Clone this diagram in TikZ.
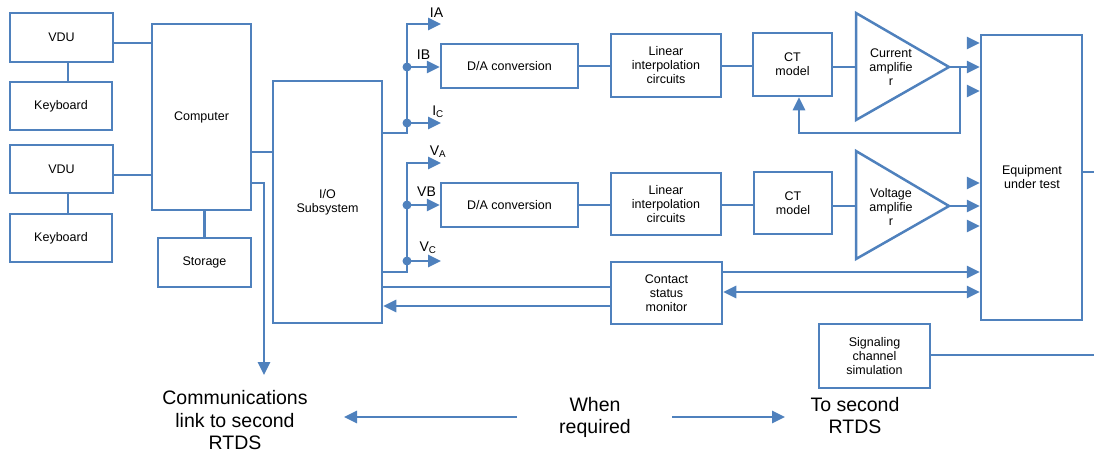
\documentclass[tikz,border=0pt]{standalone}
\usepackage{fontspec}
\setmainfont{Liberation Sans}
\usetikzlibrary{arrows.meta}
\definecolor{ob}{RGB}{79,129,189}
\tikzset{
  myarr/.tip={Triangle[length=13pt,width=12pt]},
  box/.style={draw=ob, line width=2.5pt, inner sep=0pt, align=center,
    font=\fontsize{12.5}{14}\selectfont},
  lbl/.style={inner sep=0pt, align=center, font=\fontsize{12.5}{14}\selectfont},
  sig/.style={inner sep=0pt, font=\fontsize{14}{16}\selectfont},
  big/.style={inner sep=0pt, align=center, font=\fontsize{19.5}{22.5}\selectfont},
  wire/.style={draw=ob, line width=2.75pt},
  amp/.style={draw=ob, line width=2.5pt, line join=miter},
  dot/.style={fill=ob},
}
\begin{document}
\begin{tikzpicture}[x=1pt,y=-1pt]
\useasboundingbox (0,0) rectangle (1094,453);
% left boxes
\node[box, minimum width=103pt, minimum height=49pt] (vdu1) at (61.5,37.5) {VDU};
\node[box, minimum width=102pt, minimum height=48pt] (kb1) at (61,106) {Keyboard};
\node[box, minimum width=103pt, minimum height=48pt] (vdu2) at (61.5,169) {VDU};
\node[box, minimum width=102pt, minimum height=48pt] (kb2) at (61,238) {Keyboard};
\node[box, minimum width=99pt, minimum height=186pt] (comp) at (201.5,117) {Computer};
\node[box, minimum width=93pt, minimum height=49pt] (stor) at (204.5,262.5) {Storage};
\node[box, minimum width=109pt, minimum height=242pt] (io) at (327.5,202) {I/O\\Subsystem};
% middle boxes
\node[box, minimum width=137pt, minimum height=44pt] (da1) at (509.5,66) {D/A conversion};
\node[box, minimum width=137pt, minimum height=44pt] (da2) at (509.5,205) {D/A conversion};
\node[box, minimum width=110pt, minimum height=63pt] (lin1) at (666,65.5) {Linear\\interpolation\\circuits};
\node[box, minimum width=110pt, minimum height=62pt] (lin2) at (666,204) {Linear\\interpolation\\circuits};
\node[box, minimum width=79pt, minimum height=63pt] (ct1) at (792.5,64.5) {CT\\model};
\node[box, minimum width=78pt, minimum height=62pt] (ct2) at (793,203) {CT\\model};
\node[box, minimum width=111pt, minimum height=62pt] (cont) at (666.5,293) {Contact\\status\\monitor};
\node[box, minimum width=101pt, minimum height=285pt] (equip) at (1031.5,177.5) {};
\node[lbl] (equiptxt) at (1032,177.5) {Equipment\\under test};
\node[box, minimum width=111pt, minimum height=64pt] (sigbox) at (874.5,356) {Signaling\\channel\\simulation};
% amplifiers
\coordinate (a1t) at (856,13); \coordinate (a1b) at (856,120); \coordinate (a1o) at (949,67);
\coordinate (a2t) at (856,151); \coordinate (a2b) at (856,259); \coordinate (a2o) at (949,206);
\draw[amp] (a1t) -- (a1o) -- (a1b) -- cycle;
\draw[amp] (a2t) -- (a2o) -- (a2b) -- cycle;
\node[lbl] (a1txt) at (891,67.5) {Current\\amplifie\\r};
\node[lbl] (a2txt) at (891,206.5) {Voltage\\amplifie\\r};
% left connections
\draw[wire] ([xshift=6.5pt]vdu1.south) -- ([xshift=6.5pt]vdu1.south |- kb1.north);
\draw[wire] ([xshift=6.5pt]vdu2.south) -- ([xshift=6.5pt]vdu2.south |- kb2.north);
\draw[wire] ([yshift=-5.5pt]vdu1.east) -- ([yshift=-5.5pt]vdu1.east -| comp.west);
\draw[wire] ([yshift=-6pt]vdu2.east) -- ([yshift=-6pt]vdu2.east -| comp.west);
\draw[wire] (stor.north) -- (stor.north |- comp.south);
\coordinate (ciy) at (0,152);
\draw[wire] (comp.east |- ciy) -- (io.west |- ciy);
\coordinate (cl1) at (264,183); \coordinate (cl2) at (264,375);
\draw[wire, -myarr] (comp.east |- cl1) -- (cl1) -- (cl2);
% current bus
\coordinate (ib) at (407,133); \coordinate (itop) at (407,24); \coordinate (iaend) at (441,24);
\coordinate (jb) at (407,67); \coordinate (jc) at (407,123); \coordinate (icend) at (441,123);
\draw[wire, -myarr] (io.east |- ib) -- (ib) -- (itop) -- (iaend);
\draw[wire, -myarr] (jb) -- (da1.west |- jb);
\draw[wire, -myarr] (jc) -- (icend);
\fill[dot] (jb) circle (4.5pt);
\fill[dot] (jc) circle (4.5pt);
\node[sig] (lia) at (436.5,13) {IA};
\node[sig] (lib) at (423.5,55) {IB};
\node[sig] (lic) at (438,112) {I\textsubscript{C}};
% voltage bus
\coordinate (vb) at (407,272); \coordinate (vtop) at (407,163); \coordinate (vaend) at (441,163);
\coordinate (jvb) at (407,205); \coordinate (jvc) at (407,261); \coordinate (vcend) at (441,261);
\draw[wire, -myarr] (io.east |- vb) -- (vb) -- (vtop) -- (vaend);
\draw[wire, -myarr] (jvb) -- (da2.west |- jvb);
\draw[wire, -myarr] (jvc) -- (vcend);
\fill[dot] (jvb) circle (4.5pt);
\fill[dot] (jvc) circle (4.5pt);
\node[sig] (lva) at (438,152) {V\textsubscript{A}};
\node[sig] (lvb) at (426.5,192) {VB};
\node[sig] (lvc) at (428,248) {V\textsubscript{C}};
% chains
\draw[wire] (da1.east) -- (da1.east -| lin1.west);
\draw[wire] (lin1.east |- da1.east) -- (ct1.west |- da1.east);
\draw[wire] (ct1.east |- a1o) -- (a1o -| a1t);
\draw[wire] (da2.east) -- (da2.east -| lin2.west);
\draw[wire] (lin2.east |- da2.east) -- (ct2.west |- da2.east);
\draw[wire] (ct2.east |- a2o) -- (a2o -| a2t);
% amplifier outputs
\draw[wire, -myarr] (a1o) -- (equip.west |- a1o);
\draw[wire, -myarr] (a2o) -- (equip.west |- a2o);
\coordinate (s1) at (967,43); \coordinate (s2) at (967,91);
\coordinate (s3) at (967,183); \coordinate (s4) at (967,226);
\draw[wire, -myarr] (s1) -- (equip.west |- s1);
\draw[wire, -myarr] (s2) -- (equip.west |- s2);
\draw[wire, -myarr] (s3) -- (equip.west |- s3);
\draw[wire, -myarr] (s4) -- (equip.west |- s4);
% feedback
\coordinate (fa) at (960,67); \coordinate (fb) at (960,133); \coordinate (fc) at (799,133);
\draw[wire, -myarr] (fa) -- (fb) -- (fc) -- (fc |- ct1.south);
% contact status lines
\coordinate (k1) at (0,287); \coordinate (k2) at (0,306);
\coordinate (k3) at (0,272); \coordinate (k4) at (0,292);
\draw[wire] (io.east |- k1) -- (cont.west |- k1);
\draw[wire, -myarr] (cont.west |- k2) -- (io.east |- k2);
\draw[wire, -myarr] (cont.east |- k3) -- (equip.west |- k3);
\draw[wire, myarr-myarr] (cont.east |- k4) -- (equip.west |- k4);
% right side lines
\coordinate (e1) at (1094,172); \coordinate (e2) at (1094,355);
\draw[wire] (equip.east |- e1) -- (e1);
\draw[wire] (sigbox.east |- e2) -- (e2);
% bottom texts
\node[big] (comm) at (235,420.5) {Communications\\link to second\\RTDS};
\node[big] (when) at (595,417.5) {When\\required};
\node[big] (tosec) at (855,415.5) {To second\\RTDS};
\coordinate (bl1) at (517,417); \coordinate (bl2) at (344,417);
\coordinate (br1) at (672,417); \coordinate (br2) at (785,417);
\draw[wire, -myarr] (bl1) -- (bl2);
\draw[wire, -myarr] (br1) -- (br2);
\end{tikzpicture}
\end{document}
